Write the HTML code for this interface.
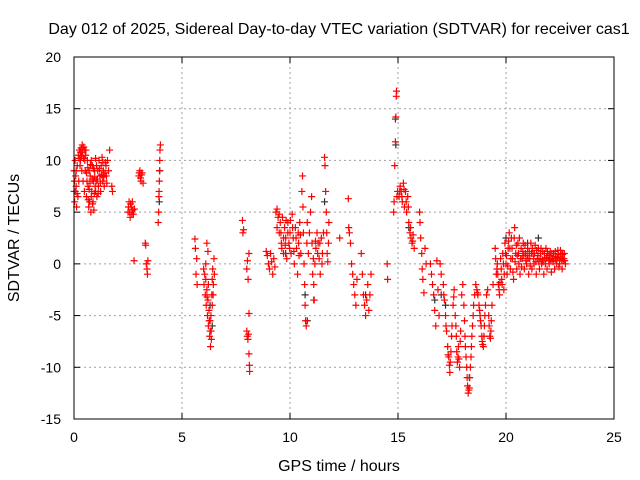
<!DOCTYPE html>
<html><head><meta charset="utf-8"><style>
body{margin:0;background:#fff}
svg{display:block;font-family:"Liberation Sans",sans-serif}
</style></head><body>
<svg id="chart" width="640" height="480">
<text x="339" y="34" font-size="16" text-anchor="middle" fill="#000">Day 012 of 2025, Sidereal Day-to-day VTEC variation (SDTVAR) for receiver cas1</text>
<g id="grid"></g>
<g id="axes"></g>
<g id="black"></g>
<g id="red"></g>
<rect x="74" y="57" width="540" height="362" fill="none" stroke="#000"/>
<text x="339" y="471" font-size="16" text-anchor="middle">GPS time / hours</text>
<text transform="translate(19,238) rotate(-90)" font-size="16" text-anchor="middle">SDTVAR / TECUs</text>
</svg>
<script>
const xTicks=[0,5,10,15,20,25];
const yTicks=[-15,-10,-5,0,5,10,15,20];
const redPoints=[[0,7],[0,9],[0.03,6],[0.05,10],[0.08,8.5],[0.1,7.5],[0.12,5.5],[0.15,9.5],[0.18,6.5],[0.2,10.5],[0.22,8],[0.25,11],[0.28,9.5],[0.3,10],[0.33,11.2],[0.36,9],[0.4,10.8],[0.42,8],[0.45,11.3],[0.48,7],[0.5,10],[0.52,9],[0.55,11],[0.58,6.5],[0.6,8],[0.62,10],[0.65,7.5],[0.68,5.5],[0.7,9],[0.72,6],[0.75,8.5],[0.78,5],[0.8,10],[0.82,7],[0.85,9.5],[0.88,6],[0.9,8],[0.92,5.2],[0.95,9],[0.98,7.5],[1.0,10.2],[1.03,8],[1.06,6.5],[1.1,9],[1.13,7.5],[1.16,10],[1.2,8.5],[1.23,7],[1.26,9.5],[1.3,10.3],[1.33,8],[1.36,9],[1.4,7.5],[1.45,9.8],[1.5,8.5],[1.55,10],[1.6,9],[1.65,11],[1.75,7.5],[1.78,7],
[2.5,5],[2.55,6],[2.6,4.5],[2.65,5.5],[2.7,6],[2.75,4.8],[2.8,5.3],[2.78,0.3],[3.0,8.5],[3.05,9],[3.1,8],[3.15,8.8],[3.2,7.8],[3.3,2],[3.32,1.8],[3.35,0],[3.38,-0.5],[3.4,-1],[3.42,0.3],
[3.9,4],[3.92,5],[3.93,6.5],[3.95,8],[3.96,9],[3.97,10],[3.98,11],[4.0,11.5],[3.94,7],
[5.6,2.4],[5.62,1.5],[5.65,-1],[5.7,-2],[5.68,0.5],[6.0,-0.5],[6.02,-2],[6.05,-1],[6.08,-3],[6.1,0],[6.12,-4],[6.15,-2.5],[6.18,-5],[6.2,-3.5],[6.22,-6],[6.25,-4.5],[6.28,-7],[6.3,-5.5],[6.32,-8],[6.35,-6.5],[6.38,-3],[6.4,-1.5],[6.42,-0.5],[6.45,-2],[6.48,0.5],[6.5,-1],[6.15,2],[6.2,1.2],
[7.8,4.2],[7.82,3],[7.85,3.3],[8.0,-6.5],[8.02,-7],[8.05,-7.3],[8.08,-6.8],[8.1,-4.8],[8.0,-0.5],[8.03,0.3],[8.06,-1.5],[8.1,1],[8.12,-9.8],[8.13,-10.4],[8.1,-8.7],
[8.9,1.2],[8.95,0.8],[9.0,0],[9.05,-0.5],[9.1,1],[9.15,0.2],[9.2,-1],[9.25,0.5],[9.3,-0.3],
[9.35,5],[9.4,5.3],[9.45,4.5],[9.5,3],[9.55,4],[9.6,2],[9.65,4.5],[9.7,1],[9.75,3.5],[9.8,2.5],[9.85,0.5],[9.9,4],[9.95,2],[10.0,3],[10.05,1],[10.1,4.8],[10.15,2.5],[10.2,0],[10.25,3.5],[10.3,1.5],[10.35,-1],[10.4,2],[10.45,4],[10.5,1],
[10.55,7],[10.58,8.5],[10.6,5.5],[10.62,3],[10.65,0],[10.68,-2],[10.7,-4],[10.72,-5.5],[10.75,-6],[10.78,2],[10.8,4],[10.85,1],[10.9,3],[10.95,5],[11.0,6.5],[11.02,2],
[11.05,-1],[11.1,-2],[11.12,-3.5],[11.15,0],[11.2,1.5],[11.25,3],[11.3,2],[11.35,0.5],[11.4,-1],[11.45,2.5],[11.5,1],[11.55,3],
[11.6,10.3],[11.62,9.5],[11.65,7],[11.68,5],[11.7,3],[11.72,1],[11.75,0.2],[11.78,2],[11.8,4],
[12.3,2.5],[12.7,6.3],[12.72,3.5],[12.75,3],[12.8,2],[12.85,0],[12.9,-1],[12.95,-2],[13.0,-3],[13.05,-4],[13.1,-1.5],
[13.3,1],[13.35,-1],[13.4,-3],[13.45,-4],[13.5,-5],[13.55,-3.5],[13.6,-2],[13.65,-4.5],[13.7,-3],[13.75,-1],
[14.5,0],[14.52,-1.5],[14.8,5],[14.82,6],[14.85,9.5],[14.88,11.8],[14.9,14.2],[14.92,16.2],[14.93,16.7],[14.95,6.5],[14.98,7],
[15.05,6.5],[15.1,7.5],[15.15,7],[15.2,6],[15.25,7.8],[15.3,5.5],[15.35,7],[15.4,5],[15.45,6.5],[15.5,4],[15.55,3],[15.6,2.5],[15.65,2],[15.7,2.8],[15.75,1.5],
[16.0,5],[16.02,4],[16.05,2.5],[16.1,1],[16.12,-0.5],[16.15,-1.5],[16.2,-2.8],[16.25,1.5],[16.3,0],
[16.5,0],[16.55,-1],[16.6,-2],[16.65,-3],[16.7,-4.5],[16.75,-6],[16.8,0.3],[16.85,-2.5],[16.9,-5],[16.95,0],[17.0,-1],
[17.1,-2],[17.15,-3.5],[17.2,-5],[17.25,-6.5],[17.3,-8],[17.35,-9],[17.4,-10.5],[17.45,-8.5],[17.5,-6],[17.55,-4],[17.6,-2.5],[17.65,-5],[17.7,-7],[17.75,-9.5],[17.8,-8],[17.85,-10],[17.9,-6.5],[17.95,-3],
[18.0,-2],[18.05,-4],[18.1,-7],[18.15,-9],[18.2,-11],[18.25,-12.5],[18.3,-12],[18.35,-10],[18.4,-8],[18.45,-6],[18.5,-4],[18.55,-3],[18.6,-2],
[18.65,-2.5],[18.7,-3],[18.75,-4],[18.8,-5],[18.85,-6],[18.9,-7.5],[18.95,-8],[19.0,-6],[19.05,-4],[19.1,-3],[19.15,-2.5],[19.2,-5],[19.25,-7],[19.3,-6.5],[19.35,-4],[19.4,-2],
[19.5,1.5],[19.55,-1],[19.6,0],[19.65,-2],[19.7,-3],[19.75,0.5],[19.8,-1.5],[19.85,1],[19.9,-2.5],[19.95,2],[20.0,0],[20.05,-1],[20.1,1.5],[20.15,3],[20.2,-0.5],[20.25,2.5],[20.3,0.5],[20.35,-1.5],[20.4,3.5],[20.45,1],[20.5,-0.5],[20.55,2],[20.6,0],[20.65,-1],[20.7,1.5],[20.75,0.5],[20.8,2],[20.85,-0.5],[20.9,1],[20.95,0],[21.0,1.5],[21.05,-1],[21.1,0.5],[21.15,2],[21.2,-0.5],[21.25,1],[21.3,0],[21.35,1.8],[21.4,-1],[21.45,0.5],[21.5,1.5],[21.55,-0.5],[21.6,1],[21.65,0],[21.7,1.2],[21.75,-1],[21.8,0.5],[21.85,1.5],[21.9,-0.5],[21.95,0.8],[22.0,0],[22.05,1.2],[22.1,-0.8],[22.15,0.5],[22.2,1],[22.25,-0.5],[22.3,0.7],[22.35,0],[22.4,1.3],[22.45,-0.3],[22.5,0.5],[22.55,1],[22.6,-0.5],[22.65,0.3],[22.7,1],[22.75,0]];
const redDense=[[0.02,8],[0.06,7],[0.1,9],[0.14,6.8],[0.24,10.2],[0.3,10.8],[0.35,10.4],[0.38,11.5],[0.44,10.2],[0.5,11],[0.54,10.5],[0.58,8.8],[0.64,9.3],[0.66,6.2],[0.7,7.2],[0.74,7.8],[0.76,9.6],[0.8,6.5],[0.84,8.2],[0.86,5.8],[0.9,9.2],[0.94,6.8],[0.96,8.4],[1.0,7],[1.04,9.5],[1.08,8.2],[1.12,6.8],[1.18,9.2],[1.22,7.8],[1.28,8.6],[1.34,9.8],[1.38,8.4],[1.44,8.8],[1.48,9.5],[1.52,7.8],
[2.52,5.5],[2.58,5],[2.62,5.8],[2.68,4.8],[2.72,5.2],[3.02,8.8],[3.08,8.3],[3.12,8.6],
[6.1,-1.5],[6.16,-3.2],[6.22,-2],[6.26,-5.5],[6.3,-6.5],[6.34,-5],[6.36,-7.3],[6.4,-4],[6.44,-3],
[9.4,3.5],[9.5,4.8],[9.58,3],[9.62,1.5],[9.7,2.5],[9.78,1.8],[9.82,4.2],[9.9,3],[9.98,1.5],[10.02,4.2],[10.12,3.5],[10.18,1.2],[10.28,2.5],[10.38,3],[10.42,0.8],[10.48,2.8],
[11.08,0.5],[11.18,2.2],[11.28,1],[11.38,2],[11.48,0],
[15.08,7],[15.18,6.5],[15.28,7.2],[15.38,6],[15.48,5.5],[15.58,3.5],[15.68,2.2],
[17.12,-3],[17.22,-6],[17.32,-8.8],[17.38,-9.8],[17.42,-9.5],[17.48,-7],[17.58,-3.2],[17.68,-6],[17.72,-8.5],[17.78,-9],[17.82,-9.2],[17.88,-7.5],
[18.08,-5.5],[18.12,-8],[18.18,-10],[18.22,-11.8],[18.28,-12.2],[18.32,-11],[18.38,-9],[18.42,-7],[18.48,-5],[18.68,-2.8],[18.78,-4.5],[18.82,-5.5],[18.88,-7],[18.92,-7.8],[18.98,-7],[19.02,-5],[19.22,-6],[19.28,-7.2],[19.32,-5.5],
[19.52,0.5],[19.58,-0.5],[19.62,-1],[19.68,-2.5],[19.72,-1.8],[19.78,-0.5],[19.82,-2],[19.88,0],[19.92,-1],[19.98,1],[20.02,0.8],[20.08,-0.2],[20.12,2.2],[20.18,1.5],[20.22,0.5],[20.28,1.5],[20.32,-0.8],[20.38,2.5],[20.42,0.2],[20.48,1.8],[20.52,0.8],[20.58,1],[20.62,2.5],[20.68,0.5],[20.72,-0.3],[20.78,1.2],[20.82,0.8],[20.88,1.8],[20.92,0.3],[20.98,0.8],[21.02,0.5],[21.08,1.2],[21.12,-0.2],[21.18,1],[21.22,1.5],[21.28,0.5],[21.32,1],[21.38,0.2],[21.42,1.3],[21.48,0.8],[21.52,0.2],[21.58,0.5],[21.62,1.5],[21.68,0.4],[21.72,0.2],[21.78,1],[21.82,0],[21.88,0.6],[21.92,1.2],[21.98,0.3],[22.02,0.8],[22.08,0.4],[22.12,1],[22.18,0.2],[22.22,0.5],[22.28,1.2],[22.32,0.3],[22.38,0.6],[22.42,0.9],[22.48,0],[22.52,1.3],[22.58,0.4],[22.62,0.9],[22.68,0.5],[22.72,0.3]];
const blackPoints=[[3.95,6],[3.97,9],[6.3,-4],[6.4,-6],[10.7,-3],[10.8,-5.5],[11.6,6],[14.9,11.5],[14.88,14],[15.5,3.5],[17.0,-3],[17.2,-4],[18.3,-11],[20,2.5],[21,2],[21.5,2.5],[9.8,1],[11.1,-3.5],[13.5,-3],[16.7,-3.5]];

const NS='http://www.w3.org/2000/svg';
const X0=74,X1=614,Y0=419,Y1=57,xmin=0,xmax=25,ymin=-15,ymax=20;
const xs=v=>X0+(v-xmin)/(xmax-xmin)*(X1-X0);
const ys=v=>Y0-(v-ymin)/(ymax-ymin)*(Y0-Y1);
function mk(tag,at,parent){const e=document.createElementNS(NS,tag);for(const k in at)e.setAttribute(k,at[k]);parent.appendChild(e);return e;}
const grid=document.getElementById('grid'),axes=document.getElementById('axes');
xTicks.forEach(t=>{const x=xs(t);
 if(t>xmin&&t<xmax){const g=mk('line',{x1:x,x2:x,y1:Y1,y2:Y0,stroke:'#a0a0a0','stroke-dasharray':'2,3'},grid);
 
 }
 mk('line',{x1:x,x2:x,y1:Y0,y2:Y0-6,stroke:'#000'},axes);
 mk('line',{x1:x,x2:x,y1:Y1,y2:Y1+6,stroke:'#000'},axes);
 const l=mk('text',{x:x,y:Y0+23,'font-size':14,'text-anchor':'middle'},axes);l.textContent=t;
 
 });
yTicks.forEach(t=>{const y=ys(t);
 if(t>ymin&&t<ymax){const g=mk('line',{x1:X0,x2:X1,y1:y,y2:y,stroke:'#a0a0a0','stroke-dasharray':'2,3'},grid);
 
 }
 mk('line',{x1:X0,x2:X0+6,y1:y,y2:y,stroke:'#000'},axes);
 mk('line',{x1:X1,x2:X1-6,y1:y,y2:y,stroke:'#000'},axes);
 const l=mk('text',{x:X0-13,y:y+5,'font-size':14,'text-anchor':'end'},axes);l.textContent=t;
 
 });
function plot(pts,g,col,name){pts.forEach(p=>{const x=xs(p[0]),y=ys(p[1]);
 const e=mk('path',{d:`M${x-3.5},${y}h7M${x},${y-3.5}v7`,stroke:col,'stroke-width':1.2,fill:'none'},g);
 
 });}
plot(blackPoints,document.getElementById('black'),'#333','black-point');
plot(redPoints,document.getElementById('red'),'#ff0000','red-point');
plot(redDense,document.getElementById('red'),'#ff0000','red-point');
</script>
</body></html>
